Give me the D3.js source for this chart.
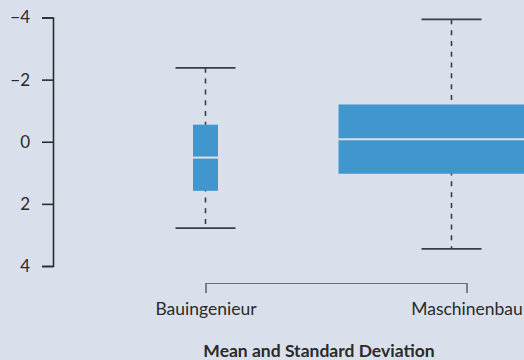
<!DOCTYPE html>
<html>
<head>
<meta charset="utf-8">
<script src="https://cdn.jsdelivr.net/npm/d3@7/dist/d3.min.js"></script>
<style>
  html, body { margin: 0; padding: 0; background: #dae0eb; }
  svg { display: block; }
  text { font-family: Lato, "Open Sans", sans-serif; fill: #2a2a2a; }
</style>
</head>
<body>
<svg id="chart" width="524" height="360"></svg>
<script>
// Groups and their summary values (box = mean ± sd, whiskers = range)
const categories   = ["Bauingenieur", "Maschinenbau"];
const whiskerLow   = [-2.38, -3.94];
const boxLow       = [-0.55, -1.20];
const centerValue  = [ 0.51, -0.08];
const boxHigh      = [ 1.58,  1.03];
const whiskerHigh  = [ 2.78,  3.45];
const yTicks       = [-4, -2, 0, 2, 4];
const titleText    = "Mean and Standard Deviation";

const svg = d3.select("#chart");

// Inverted value axis: negative values at the top
const y = d3.scaleLinear().domain([-4, 4]).range([17.5, 266]);
const x = d3.scalePoint().domain(categories).range([205.5, 466.5]);

// per-group box geometry (pixel widths and horizontal shift)
const boxWidthPx = { "Bauingenieur": 25, "Maschinenbau": 226 };
const boxShiftPx = { "Bauingenieur": 0,  "Maschinenbau": -15 };
const capWidth = 60;

const rows = categories.map((c, i) => ({
  cat: c,
  lo: whiskerLow[i], q1: boxLow[i], mid: centerValue[i], q3: boxHigh[i], hi: whiskerHigh[i]
}));

// Y axis
const yAxis = svg.append("g")
  .attr("transform", "translate(53,0)")
  .call(d3.axisLeft(y).tickValues(yTicks).tickSize(11).tickPadding(12));
yAxis.select(".domain").attr("stroke", "#2b2b2b").attr("stroke-width", 1.6);
yAxis.selectAll(".tick line").attr("stroke", "#2b2b2b").attr("stroke-width", 1.6);
yAxis.selectAll(".tick text").style("font-size", "17px").attr("fill", "#2a2a2a");

// X axis (bracket style)
const xAxis = svg.append("g")
  .attr("transform", "translate(0,283)")
  .call(d3.axisBottom(x).tickSize(10).tickPadding(10));
xAxis.select(".domain").attr("stroke", "#6b6f76").attr("stroke-width", 1.2);
xAxis.selectAll(".tick line").attr("stroke", "#6b6f76").attr("stroke-width", 1.2);
xAxis.selectAll(".tick text").style("font-size", "17.5px").attr("fill", "#2a2a2a");

const cx = d => x(d.cat) + boxShiftPx[d.cat];

const g = svg.append("g").attr("class", "boxes");

// whisker stems (dashed)
g.selectAll("line.stem").data(rows).join("line")
  .attr("class", "stem")
  .attr("x1", cx).attr("x2", cx)
  .attr("y1", d => y(d.lo)).attr("y2", d => y(d.hi))
  .attr("stroke", "#3a3d44").attr("stroke-width", 1.6)
  .attr("stroke-dasharray", "5,5.8");

// whisker caps
["lo", "hi"].forEach(k => {
  g.selectAll("line.cap-" + k).data(rows).join("line")
    .attr("class", "cap-" + k)
    .attr("x1", d => cx(d) - capWidth / 2).attr("x2", d => cx(d) + capWidth / 2)
    .attr("y1", d => y(d[k])).attr("y2", d => y(d[k]))
    .attr("stroke", "#3a3d44").attr("stroke-width", 1.8);
});

// boxes
g.selectAll("rect.box").data(rows).join("rect")
  .attr("class", "box")
  .attr("x", d => cx(d) - boxWidthPx[d.cat] / 2)
  .attr("width", d => boxWidthPx[d.cat])
  .attr("y", d => y(d.q1))
  .attr("height", d => y(d.q3) - y(d.q1))
  .attr("fill", "#4197cd");

// centre line
g.selectAll("line.mid").data(rows).join("line")
  .attr("class", "mid")
  .attr("x1", d => cx(d) - boxWidthPx[d.cat] / 2)
  .attr("x2", d => cx(d) + boxWidthPx[d.cat] / 2)
  .attr("y1", d => y(d.mid)).attr("y2", d => y(d.mid))
  .attr("stroke", "#dbe1eb").attr("stroke-width", 2);

// title
svg.append("text")
  .attr("x", 319).attr("y", 357)
  .attr("text-anchor", "middle")
  .style("font-size", "17.5px").style("font-weight", "bold")
  .text(titleText);
</script>
</body>
</html>
